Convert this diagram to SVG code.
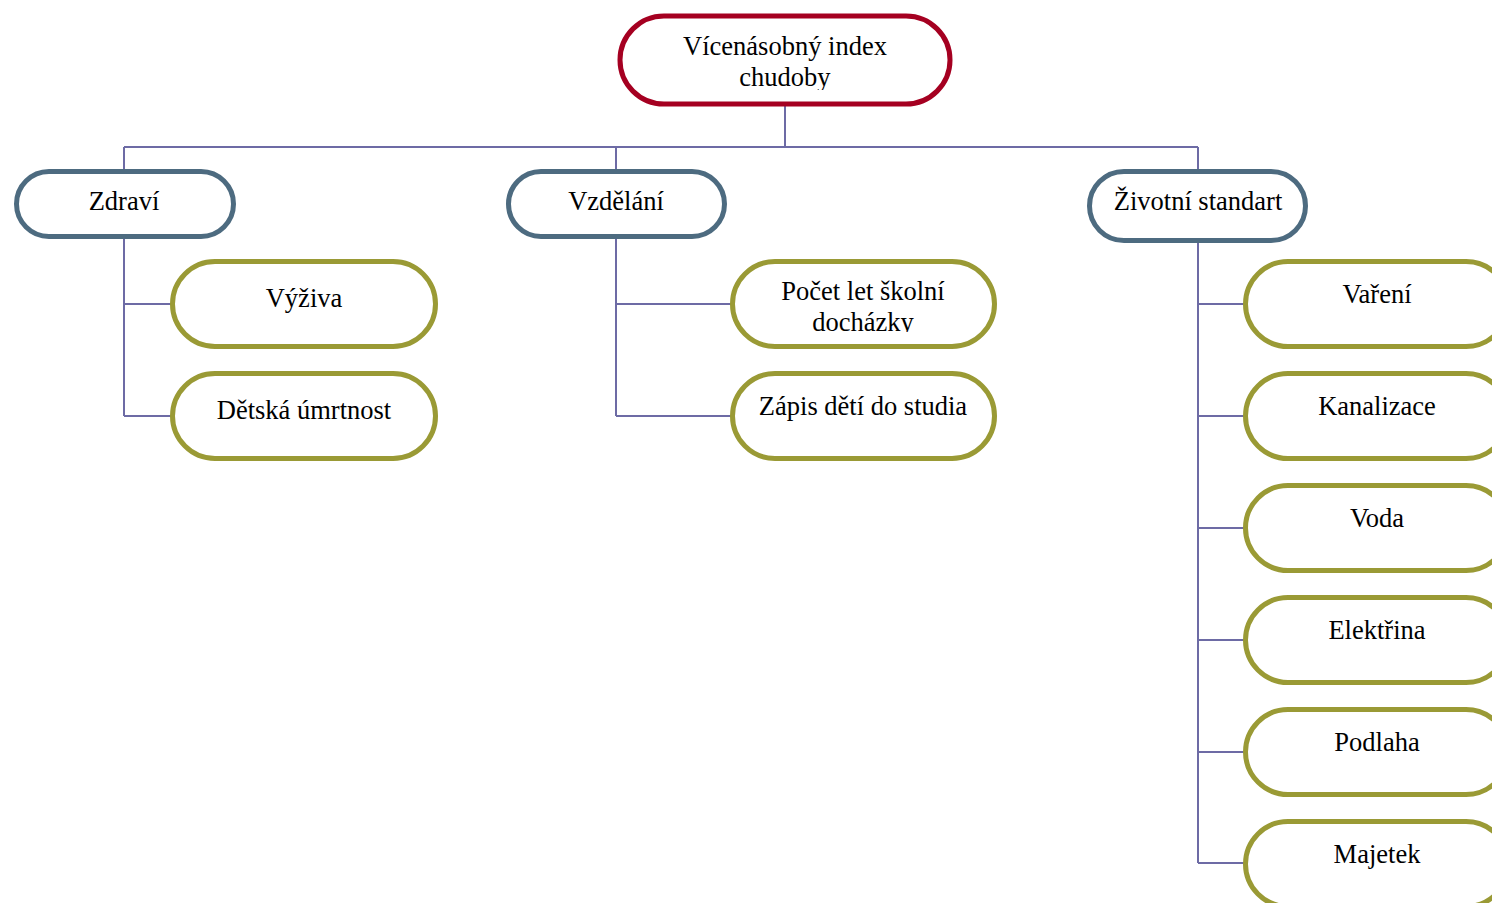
<svg xmlns="http://www.w3.org/2000/svg" width="1492" height="903" viewBox="0 0 1492 903">
<style>
.t{font-family:"Liberation Serif","Times New Roman",serif;font-size:26.5px;fill:#000;text-anchor:middle}
.root{fill:#fff;stroke:#A50021;stroke-width:5}
.cat{fill:#fff;stroke:#4D6B80;stroke-width:5}
.leaf{fill:#fff;stroke:#9A9A35;stroke-width:5}
.c{fill:none;stroke:#6D6BA5;stroke-width:2}
</style>
<defs>
<clipPath id="clipRoot"><rect x="620" y="16" width="330" height="74"/></clipPath>
<clipPath id="clipPocet"><rect x="732" y="262" width="262" height="70"/></clipPath>
</defs>
<g id="connectors">
<path class="c" d="M785 106V147M124 147H1198M124 147V171M616 147V171M1198 147V171"/>
<path class="c" d="M124 237V416M124 304H172M124 416H172"/>
<path class="c" d="M616 237V416M616 304H732M616 416H732"/>
<path class="c" d="M1198 241V863M1198 304H1245M1198 416H1245M1198 528H1245M1198 640H1245M1198 752H1245M1198 863H1245"/>
</g>
<g id="n-root">
<rect class="root" x="620" y="16" width="330" height="88" rx="44"/>
<g clip-path="url(#clipRoot)">
<text class="t" x="785" y="55">Vícenásobný index</text>
<text class="t" x="785" y="86">chudoby</text>
</g>
</g>
<g id="n-zdravi">
<rect class="cat" x="16.5" y="171.5" width="217" height="65" rx="32.5"/>
<text class="t" x="124" y="210">Zdraví</text>
</g>
<g id="n-vzdelani">
<rect class="cat" x="508.5" y="171.5" width="216" height="65" rx="32.5"/>
<text class="t" x="616" y="210">Vzdělání</text>
</g>
<g id="n-zivotni">
<rect class="cat" x="1089.5" y="171.5" width="216" height="69" rx="34.5"/>
<text class="t" x="1198" y="210">Životní standart</text>
</g>
<g id="n-vyziva">
<rect class="leaf" x="172.5" y="261.5" width="263" height="85" rx="42.5"/>
<text class="t" x="304" y="307">Výživa</text>
</g>
<g id="n-detska">
<rect class="leaf" x="172.5" y="373.5" width="263" height="85" rx="42.5"/>
<text class="t" x="304" y="419">Dětská úmrtnost</text>
</g>
<g id="n-pocet">
<rect class="leaf" x="732.5" y="261.5" width="262" height="85" rx="42.5"/>
<g clip-path="url(#clipPocet)">
<text class="t" x="863" y="300">Počet let školní</text>
<text class="t" x="863" y="331">docházky</text>
</g>
</g>
<g id="n-zapis">
<rect class="leaf" x="732.5" y="373.5" width="262" height="85" rx="42.5"/>
<text class="t" x="863" y="415">Zápis dětí do studia</text>
</g>
<g id="n-vareni">
<rect class="leaf" x="1245.5" y="261.5" width="263" height="85" rx="42.5"/>
<text class="t" x="1377" y="303">Vaření</text>
</g>
<g id="n-kanalizace">
<rect class="leaf" x="1245.5" y="373.5" width="263" height="85" rx="42.5"/>
<text class="t" x="1377" y="415">Kanalizace</text>
</g>
<g id="n-voda">
<rect class="leaf" x="1245.5" y="485.5" width="263" height="85" rx="42.5"/>
<text class="t" x="1377" y="527">Voda</text>
</g>
<g id="n-elektrina">
<rect class="leaf" x="1245.5" y="597.5" width="263" height="85" rx="42.5"/>
<text class="t" x="1377" y="639">Elektřina</text>
</g>
<g id="n-podlaha">
<rect class="leaf" x="1245.5" y="709.5" width="263" height="85" rx="42.5"/>
<text class="t" x="1377" y="751">Podlaha</text>
</g>
<g id="n-majetek">
<rect class="leaf" x="1245.5" y="821.5" width="263" height="85" rx="42.5"/>
<text class="t" x="1377" y="863">Majetek</text>
</g>
</svg>
